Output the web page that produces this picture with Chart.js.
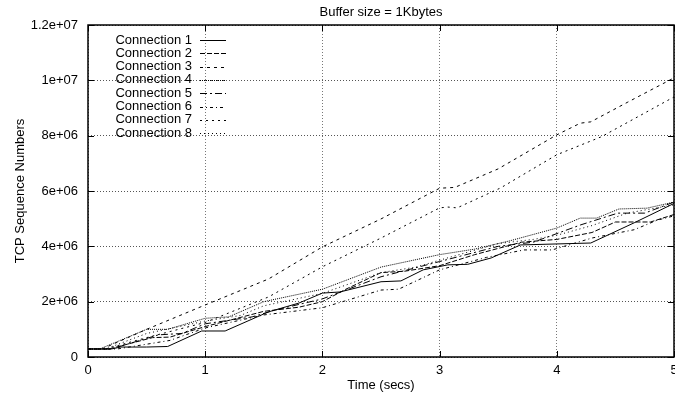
<!DOCTYPE html>
<html lang="en">
<head>
    <meta charset="UTF-8">
    <title>Buffer size = 1Kbytes</title>
    <style>
        body { margin: 0; background: #fff; }
        canvas { display: block; }
    </style>
    <script src="https://cdn.jsdelivr.net/npm/chart.js"></script>
</head>
<body>
    <canvas id="seqChart" width="675" height="393"></canvas>

    <script>
        // Data (time in secs, TCP sequence numbers)
        const labels = ['Connection 1', 'Connection 2', 'Connection 3', 'Connection 4',
                        'Connection 5', 'Connection 6', 'Connection 7', 'Connection 8'];

        const t1 = [0, 0.2, 0.28, 0.5, 0.68, 0.97, 1.17, 1.54, 1.8, 2.0, 2.15, 2.5, 2.67, 2.86, 3.07, 3.24, 3.44, 3.69, 4.29, 4.66, 5.0];
        const conn1 = [290000, 290000, 360000, 360000, 380000, 940000, 940000, 1630000, 1950000, 2310000, 2350000, 2720000, 2750000, 3150000, 3330000, 3350000, 3580000, 4050000, 4120000, 4850000, 5550000];

        const t2 = [0, 0.18, 0.55, 0.7, 1.0, 1.5, 1.8, 2.0, 2.2, 2.5, 2.7, 3.0, 3.3, 3.7, 4.0, 4.3, 4.5, 4.8, 5.0];
        const conn2 = [290000, 290000, 700000, 720000, 1100000, 1650000, 1800000, 2000000, 2450000, 3050000, 3100000, 3300000, 3700000, 4150000, 4250000, 4500000, 4880000, 4880000, 5150000];

        const t3 = [0, 0.12, 0.5, 1.0, 1.54, 2.0, 2.5, 3.0, 3.13, 3.5, 4.0, 4.2, 4.29, 4.6, 5.0];
        const conn3 = [290000, 290000, 1000000, 1880000, 2820000, 3980000, 4990000, 6100000, 6130000, 6800000, 8030000, 8450000, 8500000, 9200000, 10090000];

        const t4 = [0, 0.1, 0.5, 0.68, 1.0, 1.2, 1.5, 2.0, 2.5, 3.0, 3.3, 3.6, 4.0, 4.2, 4.34, 4.53, 4.77, 5.0];
        const conn4 = [290000, 290000, 1000000, 1000000, 1400000, 1450000, 2000000, 2450000, 3250000, 3700000, 3900000, 4200000, 4660000, 5020000, 5020000, 5350000, 5380000, 5600000];

        const t5 = [0, 0.2, 0.6, 0.8, 1.0, 1.4, 1.6, 2.0, 2.5, 3.0, 3.5, 3.8, 4.2, 4.52, 4.75, 5.0];
        const conn5 = [290000, 290000, 800000, 850000, 1200000, 1450000, 1700000, 2100000, 2900000, 3450000, 4000000, 4150000, 4770000, 5200000, 5200000, 5600000];

        const t6 = [0, 0.25, 0.7, 1.0, 1.5, 2.0, 2.5, 2.65, 3.0, 3.4, 3.72, 3.96, 4.3, 4.66, 4.86, 5.0];
        const conn6 = [290000, 290000, 600000, 1050000, 1520000, 1780000, 2420000, 2450000, 3150000, 3600000, 3870000, 3870000, 4300000, 4600000, 4950000, 5100000];

        const t7 = [0, 0.15, 0.5, 1.0, 1.54, 2.0, 2.5, 3.0, 3.07, 3.15, 3.52, 4.0, 4.38, 5.0];
        const conn7 = [290000, 290000, 700000, 1250000, 2170000, 3260000, 4300000, 5390000, 5420000, 5390000, 6110000, 7310000, 7960000, 9400000];

        const t8 = [0, 0.15, 0.5, 1.0, 1.3, 1.5, 2.0, 2.5, 2.8, 3.0, 3.5, 3.8, 4.0, 4.3, 4.6, 5.0];
        const conn8 = [290000, 290000, 850000, 1300000, 1500000, 1850000, 2300000, 3050000, 3250000, 3500000, 4100000, 4250000, 4400000, 4750000, 5200000, 5500000];

        const xTicks = [0, 1, 2, 3, 4, 5];
        const yTicks = [0, 2000000, 4000000, 6000000, 8000000, 10000000, 12000000];

        const times = [t1, t2, t3, t4, t5, t6, t7, t8];
        const values = [conn1, conn2, conn3, conn4, conn5, conn6, conn7, conn8];
        const dashes = [[], [5, 2], [3, 4], [1, 1], [7, 3, 2, 3], [3, 3, 1, 3], [2, 4], [1, 3]];

        const FONT = '"Liberation Sans", Arial, Helvetica, sans-serif';

        function fmtExp(v) {
            if (v === 0) return '0';
            return v.toExponential().replace(/e\+(\d)$/, 'e+0$1');
        }

        const datasets = labels.map((name, i) => ({
            label: name,
            data: times[i].map((t, j) => ({ x: t, y: values[i][j] })),
            borderColor: '#000',
            borderWidth: 1,
            borderDash: dashes[i],
            pointRadius: 0,
            tension: 0,
            fill: false
        }));

        // gnuplot-ish frame, inner ticks, title, axis titles and legend
        const decor = {
            id: 'decor',
            afterDraw(chart) {
                const ctx = chart.ctx;
                const a = chart.chartArea;
                const xs = chart.scales.x, ys = chart.scales.y;
                ctx.save();
                ctx.strokeStyle = '#000';
                ctx.setLineDash([]);
                ctx.lineWidth = 1;
                ctx.beginPath();
                xTicks.forEach(v => {
                    const px = Math.round(xs.getPixelForValue(v)) + 0.5;
                    ctx.moveTo(px, a.bottom); ctx.lineTo(px, a.bottom - 6);
                    ctx.moveTo(px, a.top); ctx.lineTo(px, a.top + 6);
                });
                yTicks.forEach(v => {
                    const py = Math.round(ys.getPixelForValue(v)) + 0.5;
                    ctx.moveTo(a.left, py); ctx.lineTo(a.left + 6, py);
                    ctx.moveTo(a.right, py); ctx.lineTo(a.right - 6, py);
                });
                ctx.stroke();
                ctx.lineWidth = 1.5;
                ctx.strokeRect(a.left, a.top, a.right - a.left, a.bottom - a.top);

                ctx.fillStyle = '#000';
                ctx.font = '13px ' + FONT;
                ctx.textAlign = 'center';
                ctx.textBaseline = 'middle';
                ctx.fillText('Buffer size = 1Kbytes', (a.left + a.right) / 2, 12);
                ctx.fillText('Time (secs)', (a.left + a.right) / 2, 385);
                ctx.save();
                ctx.translate(20, (a.top + a.bottom) / 2);
                ctx.rotate(-Math.PI / 2);
                ctx.fillText('TCP Sequence Numbers', 0, 0);
                ctx.restore();

                // legend
                ctx.textAlign = 'right';
                ctx.lineWidth = 1;
                labels.forEach((name, i) => {
                    const y = 40 + i * 13.3;
                    ctx.fillText(name, 192, y);
                    ctx.setLineDash(dashes[i]);
                    ctx.beginPath();
                    ctx.moveTo(200, Math.round(y) + 0.5);
                    ctx.lineTo(226, Math.round(y) + 0.5);
                    ctx.stroke();
                });
                ctx.restore();
            }
        };

        new Chart(document.getElementById('seqChart'), {
            type: 'line',
            data: { datasets: datasets },
            plugins: [decor],
            options: {
                responsive: false,
                animation: false,
                devicePixelRatio: 1,
                layout: { padding: { top: 25, right: 1, left: 0, bottom: 0 } },
                plugins: { legend: { display: false }, tooltip: { enabled: false } },
                scales: {
                    x: {
                        type: 'linear',
                        min: 0, max: 5,
                        afterBuildTicks: s => { s.ticks = xTicks.map(v => ({ value: v })); },
                        afterFit: s => { s.height = 36; s.paddingLeft = 0; s.paddingRight = 0; },
                        ticks: { color: '#000', padding: 6, maxRotation: 0, font: { family: FONT, size: 13 } },
                        grid: { color: '#777', drawTicks: false },
                        border: { display: false, dash: [1, 2] }
                    },
                    y: {
                        min: 0, max: 12000000,
                        afterBuildTicks: s => { s.ticks = yTicks.map(v => ({ value: v })); },
                        afterFit: s => { s.width = 88; s.paddingTop = 0; s.paddingBottom = 0; },
                        ticks: { color: '#000', padding: 10, callback: v => fmtExp(v), font: { family: FONT, size: 13 } },
                        grid: { color: '#555', drawTicks: false },
                        border: { display: false, dash: [1, 2] }
                    }
                }
            }
        });
    </script>
</body>
</html>
